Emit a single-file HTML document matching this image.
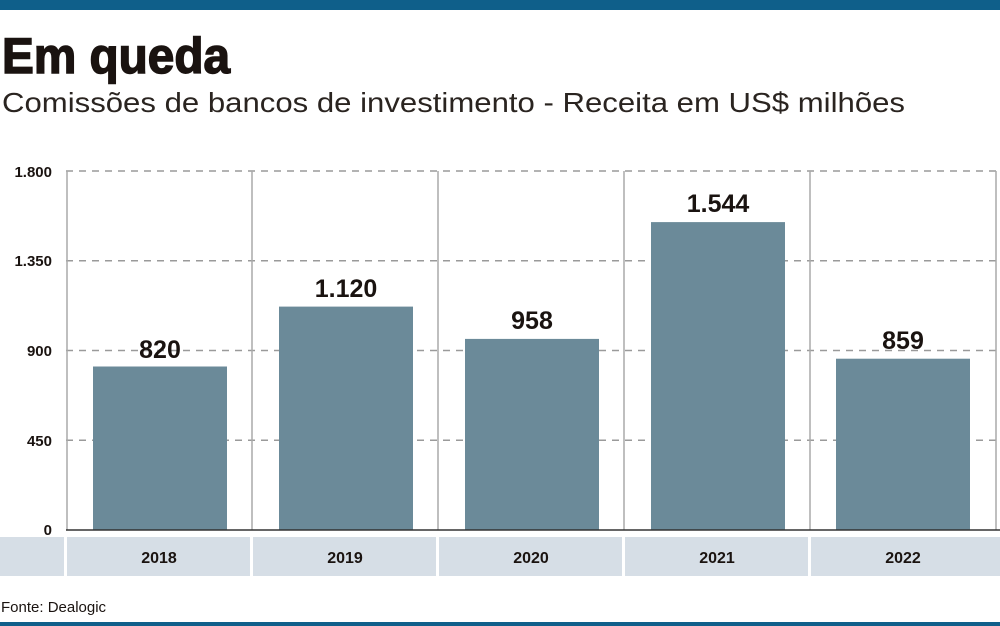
<!DOCTYPE html>
<html><head><meta charset="utf-8"><style>
html,body{margin:0;padding:0;background:#fff;}
svg{display:block;font-family:"Liberation Sans",sans-serif;}
</style></head><body>
<svg width="1000" height="626" viewBox="0 0 1000 626">
<rect x="0" y="0" width="1000" height="10" fill="#0f5f8a"/>
<text x="2" y="73" font-size="50" font-weight="bold" fill="#1a1310" stroke="#1a1310" stroke-width="1.5" textLength="228" lengthAdjust="spacingAndGlyphs">Em queda</text>
<text x="2" y="112" font-size="28" fill="#2a2420" textLength="903" lengthAdjust="spacingAndGlyphs">Comissões de bancos de investimento - Receita em US$ milhões</text>
<g stroke="#9a9a9a" stroke-width="1.5" stroke-dasharray="7,6">
<line x1="66" y1="171" x2="1000" y2="171"/>
<line x1="66" y1="260.75" x2="1000" y2="260.75"/>
<line x1="66" y1="350.5" x2="1000" y2="350.5"/>
<line x1="66" y1="440.25" x2="1000" y2="440.25"/>
</g>
<g stroke="#aaaaaa" stroke-width="1.5">
<line x1="67" y1="171" x2="67" y2="530"/>
<line x1="252" y1="171" x2="252" y2="530"/>
<line x1="438" y1="171" x2="438" y2="530"/>
<line x1="624" y1="171" x2="624" y2="530"/>
<line x1="810" y1="171" x2="810" y2="530"/>
<line x1="996" y1="171" x2="996" y2="530"/>
</g>
<g fill="#6b8a99">
<rect x="93" y="366.5" width="134" height="163.5"/>
<rect x="279" y="306.6" width="134" height="223.4"/>
<rect x="465" y="338.9" width="134" height="191.1"/>
<rect x="651" y="222.1" width="134" height="307.9"/>
<rect x="836" y="358.7" width="134" height="171.3"/>
</g>
<line x1="66" y1="530" x2="1000" y2="530" stroke="#333" stroke-width="1.5"/>
<g font-size="15" font-weight="bold" fill="#1a1310" text-anchor="end">
<text x="52" y="177">1.800</text>
<text x="52" y="266">1.350</text>
<text x="52" y="356">900</text>
<text x="52" y="446">450</text>
<text x="52" y="535">0</text>
</g>
<g font-size="25" font-weight="bold" fill="#1a1310" text-anchor="middle">
<text x="160" y="358">820</text>
<text x="346" y="297">1.120</text>
<text x="532" y="329">958</text>
<text x="718" y="212">1.544</text>
<text x="903" y="349">859</text>
</g>
<g fill="#d6dee6">
<rect x="0" y="537" width="64" height="39"/>
<rect x="67" y="537" width="183" height="39"/>
<rect x="253" y="537" width="183" height="39"/>
<rect x="439" y="537" width="183" height="39"/>
<rect x="625" y="537" width="183" height="39"/>
<rect x="811" y="537" width="189" height="39"/>
</g>
<g font-size="16" font-weight="bold" fill="#1a1310" text-anchor="middle">
<text x="159" y="563">2018</text>
<text x="345" y="563">2019</text>
<text x="531" y="563">2020</text>
<text x="717" y="563">2021</text>
<text x="903" y="563">2022</text>
</g>
<text x="1" y="612" font-size="15" fill="#1a1310">Fonte: Dealogic</text>
<rect x="0" y="622" width="1000" height="4" fill="#0f5f8a"/>
</svg>
</body></html>
